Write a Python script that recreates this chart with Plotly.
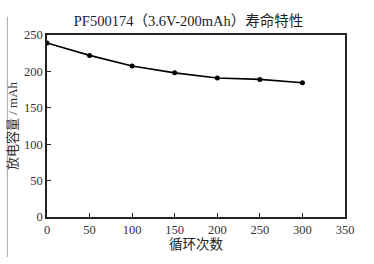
import plotly.graph_objects as go

cycles = [0, 50, 100, 150, 200, 250, 300]
capacity = [239, 222, 207.5, 198, 191, 189, 184.5]
x_ticks = [0, 50, 100, 150, 200, 250, 300, 350]
y_ticks = [0, 50, 100, 150, 200, 250]

fnt = "Liberation Serif, Times New Roman, Noto Sans CJK SC, serif"

fig = go.Figure()
fig.add_trace(go.Scatter(
    x=cycles, y=capacity, mode="lines+markers",
    line=dict(color="black", width=1.6),
    marker=dict(color="black", size=5),
    showlegend=False,
))

fig.update_layout(
    width=374, height=264,
    margin=dict(l=43, r=29, t=35, b=47),
    paper_bgcolor="white", plot_bgcolor="white",
    font=dict(family=fnt, color="#222", size=12),
    title=dict(text="PF500174（3.6V-200mAh）寿命特性", x=0.475, xref="paper",
               y=1, yref="container", yanchor="top", pad=dict(t=16),
               font=dict(family=fnt, size=14.5, color="#222")),
)
fig.update_xaxes(
    range=[0, 350], tickvals=x_ticks, showgrid=False, zeroline=False,
    showline=True, linecolor="#222", linewidth=1.5, mirror=True,
    ticks="inside", ticklen=4, tickcolor="#222",
    tickfont=dict(family=fnt, size=12.5, color="#333"),
    title=dict(text="循环次数", font=dict(family=fnt, size=13.5, color="#222"), standoff=0),
)
fig.update_yaxes(
    range=[0, 250], tickvals=y_ticks, showgrid=False, zeroline=False,
    showline=True, linecolor="#222", linewidth=1.5, mirror=True,
    ticks="inside", ticklen=4, tickcolor="#222",
    tickfont=dict(family=fnt, size=12.5, color="#333"),
    title=dict(text="放电容量 / mAh", font=dict(family=fnt, size=13, color="#333"), standoff=3),
)
fig.add_shape(type="line", xref="paper", yref="paper", x0=-0.133, x1=-0.133,
              y0=-0.22, y1=1.1, line=dict(color="#aaa", width=1))
fig.write_html("out.html")
